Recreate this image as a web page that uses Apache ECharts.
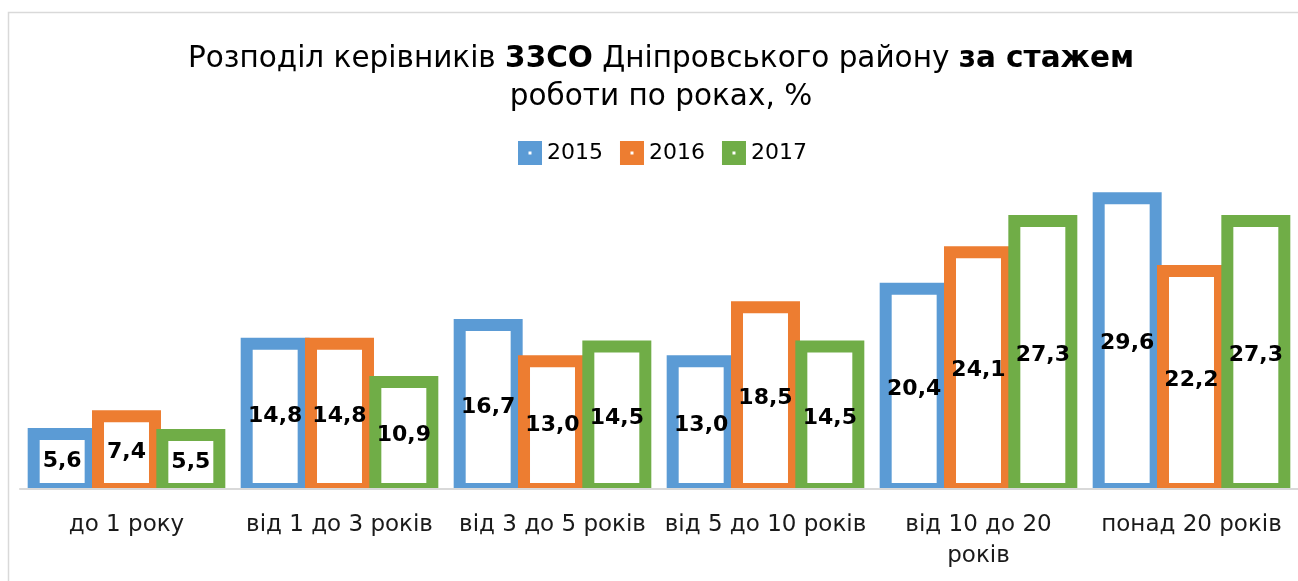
<!DOCTYPE html>
<html>
<head>
<meta charset="utf-8">
<script src="https://cdn.jsdelivr.net/npm/echarts@6/dist/echarts.min.js"></script>
<style>
  html, body { margin: 0; padding: 0; background: #fff; }
  #chart { width: 1298px; height: 581px; }
</style>
</head>
<body>
<div id="chart"></div>
<script>
// Categories: length of service
const categories = ['до 1 року', 'від 1 до 3 років', 'від 3 до 5 років', 'від 5 до 10 років', 'від 10 до 20 років', 'понад 20 років'];
const years = ['2015', '2016', '2017'];
const values2015 = [5.6, 14.8, 16.7, 13.0, 20.4, 29.6];
const values2016 = [7.4, 14.8, 13.0, 18.5, 24.1, 22.2];
const values2017 = [5.5, 10.9, 14.5, 14.5, 27.3, 27.3];
const colors = ['#5B9BD5', '#ED7D31', '#70AD47'];

const FONT = '"DejaVu Sans", sans-serif';
const BORDER = 12;
const chart = echarts.init(document.getElementById('chart'), null, { renderer: 'canvas' });

const seriesData = [values2015, values2016, values2017];
const fmt = v => v.toFixed(1).replace('.', ',');

// Hollow bar: thick outline straddling the value edge, white inside, value label centred
function makeRenderer(seriesIndex) {
  const slot = seriesIndex - 1;           // -1, 0, +1 within the category band
  return function (params, api) {
    const cat = api.value(0);
    const v = api.value(1);
    const base = api.coord([cat, 0]);
    const top = api.coord([cat, v]);
    const band = api.size([1, 0])[0];
    const pitch = band * 0.302;
    const innerHalf = band * 0.1056;
    const cx = base[0] + slot * pitch;
    const half = BORDER / 2;
    return {
      type: 'group',
      children: [
        {
          type: 'rect',
          shape: {
            x: cx - innerHalf - BORDER,
            y: top[1] - half,
            width: 2 * innerHalf + 2 * BORDER,
            height: base[1] + 1 - (top[1] - half)
          },
          style: { fill: colors[seriesIndex] }
        },
        {
          type: 'rect',
          shape: {
            x: cx - innerHalf,
            y: top[1] + half,
            width: 2 * innerHalf,
            height: Math.max(0, (base[1] - half) - (top[1] + half))
          },
          style: { fill: '#ffffff' }
        },
        {
          type: 'text',
          style: {
            text: fmt(v),
            x: cx,
            y: (top[1] + base[1]) / 2,
            align: 'center',
            verticalAlign: 'middle',
            fill: '#000',
            font: 'bold 22px ' + FONT
          },
          z2: 5
        }
      ]
    };
  };
}

const series = years.map((y, i) => ({
  name: y,
  type: 'custom',
  coordinateSystem: 'cartesian2d',
  data: seriesData[i].map((v, k) => [k, v]),
  encode: { x: 0, y: 1 },
  itemStyle: { color: colors[i] },
  renderItem: makeRenderer(i),
  emphasis: { disabled: true },
  silent: true,
  z: 2
}));

// Legend icon: filled square with a tiny hole in the middle
const legendIcon = 'path://M0,0H24V24H0Z M10.5,10.5V13.5H13.5V10.5Z';

chart.setOption({
  animation: false,
  backgroundColor: '#fff',
  graphic: [{
    // chart frame: left and top edges
    type: 'polyline',
    shape: { points: [[8.5, 600], [8.5, 12.5], [1300, 12.5]] },
    style: { fill: 'none', stroke: '#D9D9D9', lineWidth: 1.5 },
    silent: true, z: 0
  }],
  title: {
    text: 'Розподіл керівників {b|33СО} Дніпровського району {b|за стажем}\nроботи по роках, %',
    left: 661,
    top: 40,
    padding: 0,
    textAlign: 'center',
    textStyle: {
      fontFamily: FONT,
      fontSize: 29.5,
      fontWeight: 'normal',
      color: '#000',
      lineHeight: 38,
      rich: {
        b: { fontFamily: FONT, fontSize: 29.5, fontWeight: 'bold', color: '#000', lineHeight: 38 }
      }
    }
  },
  legend: {
    top: 141,
    left: 518,
    padding: 0,
    itemWidth: 24,
    itemHeight: 24,
    itemGap: 17,
    selectedMode: false,
    textStyle: { fontFamily: FONT, fontSize: 22, color: '#000' },
    data: years.map((y, i) => ({ name: y, icon: legendIcon, itemStyle: { color: colors[i], borderWidth: 0 } }))
  },
  grid: { left: 20, right: -1, top: 194.4, bottom: 92, containLabel: false },
  xAxis: {
    type: 'category',
    data: categories,
    axisLine: { show: true, lineStyle: { color: '#D9D9D9', width: 2 } },
    axisTick: { show: false },
    axisLabel: {
      fontFamily: FONT,
      fontSize: 23,
      color: '#1a1a1a',
      margin: 21,
      lineHeight: 31,
      interval: 0,
      // the longest category name continues on a second line
      formatter: v => v.length > 17 ? v.replace(/ (\S+)$/, '\n$1') : v
    },
    z: 10
  },
  yAxis: {
    type: 'value',
    min: 0,
    max: 30,
    show: false,
    splitLine: { show: false }
  },
  series: series
});
</script>
</body>
</html>
